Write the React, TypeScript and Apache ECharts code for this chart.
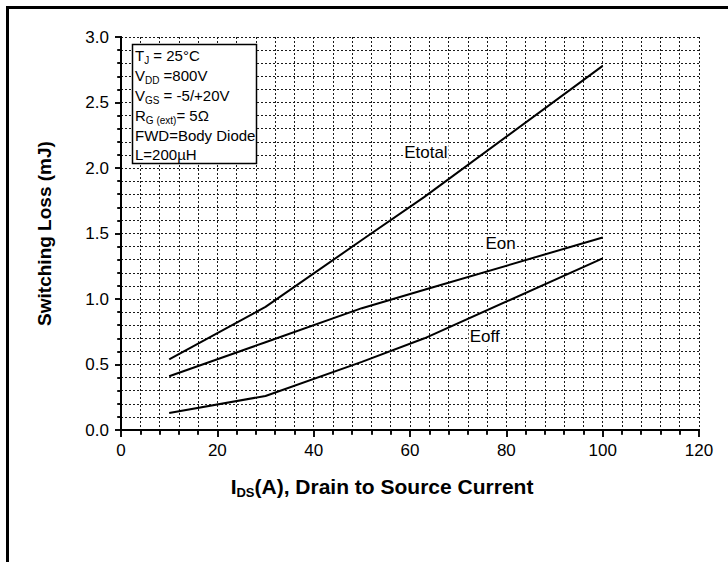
import React, { useEffect, useRef } from "react";
import * as echarts from "echarts";

const currents = [10, 30, 50, 63, 100];
const eTotal = [0.54, 0.94, 1.45, 1.78, 2.78];
const eOn = [0.41, 0.67, 0.93, 1.07, 1.47];
const eOff = [0.13, 0.26, 0.52, 0.7, 1.31];
const seriesNames = ["Etotal", "Eon", "Eoff"];
const labelCoords: [number, number][] = [
  [63.3, 2.12],
  [78.8, 1.42],
  [75.5, 0.71],
];
const conditionLines = [
  "{m|T}{s|J}{m| = 25°C}",
  "{m|V}{s|DD}{m| =800V}",
  "{m|V}{s|GS}{m| = -5/+20V}",
  "{m|R}{s|G (ext)}{m|= 5Ω}",
  "{m|FWD=Body Diode}",
  "{m|L=200µH}",
];
const xTitle = "{b|I}{sub|DS}{b|(A), Drain to Source Current}";
const yTitle = "Switching Loss (mJ)";

const FONT = "Liberation Sans, Arial, sans-serif";

export default function App() {
  const ref = useRef<HTMLDivElement>(null);
  useEffect(() => {
    document.body.style.margin = "0";
    if (!ref.current) return;
    const chart = echarts.init(ref.current, undefined, { renderer: "svg" });
    const dotted = { lineStyle: { color: "#1a1a1a", width: 1, type: [2, 2] } };
    const mk = (vals: number[]) => currents.map((x, i) => [x, vals[i]]);
    const seriesData = [eTotal, eOn, eOff];
    const option: any = {
      animation: false,
      backgroundColor: "#fff",
      grid: { left: 121, right: 29, top: 37, bottom: 132, containLabel: false },
      xAxis: [
        {
          type: "value",
          position: "bottom",
          min: 0,
          max: 120,
          interval: 20,
          axisLine: { show: true, lineStyle: { color: "#000", width: 2 } },
          axisTick: { show: true, inside: false, length: 7, lineStyle: { color: "#000", width: 1.5 } },
          minorTick: { show: true, splitNumber: 5, length: 4, lineStyle: { color: "#000", width: 1.5 } },
          splitLine: { show: true, ...dotted },
          minorSplitLine: { show: true, ...dotted },
          axisLabel: { color: "#000", fontSize: 17, fontFamily: FONT, margin: 12 },
          name: xTitle,
          nameLocation: "middle",
          nameGap: 44,
          nameTextStyle: {
            padding: [0, 56, 0, 0],
            rich: {
              b: { fontSize: 21, fontWeight: "bold", fontFamily: FONT, color: "#000", lineHeight: 25, verticalAlign: "middle" },
              sub: { fontSize: 13, fontWeight: "bold", fontFamily: FONT, color: "#000", lineHeight: 13, verticalAlign: "bottom" },
            },
          },
        },
        {
          type: "value",
          position: "top",
          min: 0,
          max: 120,
          interval: 20,
          axisLine: { show: true, lineStyle: { color: "#000", width: 2 } },
          axisTick: { show: true, inside: true, length: 7, lineStyle: { color: "#000", width: 1.5 } },
          minorTick: { show: true, splitNumber: 5, length: 5, lineStyle: { color: "#000", width: 1.5 } },
          splitLine: { show: false },
          axisLabel: { show: false },
        },
      ],
      yAxis: [
        {
          type: "value",
          position: "left",
          min: 0,
          max: 3,
          interval: 0.5,
          axisLine: { show: true, lineStyle: { color: "#000", width: 2 } },
          axisTick: { show: true, inside: false, length: 6, lineStyle: { color: "#000", width: 1.5 } },
          minorTick: { show: true, splitNumber: 5, length: 3, lineStyle: { color: "#000", width: 1.5 } },
          splitLine: { show: true, ...dotted },
          minorSplitLine: { show: true, ...dotted },
          axisLabel: {
            color: "#000",
            fontSize: 17,
            fontFamily: FONT,
            margin: 12,
            formatter: (v: number) => v.toFixed(1),
          },
          name: yTitle,
          nameLocation: "middle",
          nameGap: 67,
          nameTextStyle: { fontSize: 19, fontWeight: "bold", fontFamily: FONT, color: "#000" },
        },
        {
          type: "value",
          position: "right",
          min: 0,
          max: 3,
          interval: 0.5,
          axisLine: { show: true, lineStyle: { color: "#000", width: 2 } },
          axisTick: { show: true, inside: true, length: 6, lineStyle: { color: "#000", width: 1.5 } },
          minorTick: { show: true, splitNumber: 5, length: 4, lineStyle: { color: "#000", width: 1.5 } },
          splitLine: { show: false },
          axisLabel: { show: false },
        },
      ],
      series: seriesNames.map((name, i) => ({
        name,
        type: "line",
        xAxisIndex: 0,
        yAxisIndex: 0,
        data: mk(seriesData[i]),
        symbol: "none",
        lineStyle: { color: "#000", width: 2 },
        z: 5,
        markPoint: {
          symbol: "rect",
          symbolSize: 1,
          itemStyle: { color: "rgba(0,0,0,0)" },
          label: {
            show: true,
            position: "inside",
            formatter: name,
            color: "#000",
            fontSize: 17,
            fontFamily: FONT,
            backgroundColor: "#fff",
            padding: [1, 1, 1, 1],
          },
          data: [{ coord: labelCoords[i] }],
        },
      })),
      graphic: [
        {
          type: "line",
          shape: { x1: 6, y1: 7.5, x2: 728, y2: 7.5 },
          style: { stroke: "#000", lineWidth: 3 },
        },
        {
          type: "line",
          shape: { x1: 7.5, y1: 6, x2: 7.5, y2: 562 },
          style: { stroke: "#000", lineWidth: 3 },
        },
        {
          type: "rect",
          shape: { x: 132.5, y: 44.5, width: 124, height: 119 },
          style: { fill: "#fff", stroke: "#000", lineWidth: 1.5 },
          z: 10,
        },
        {
          type: "text",
          x: 135,
          y: 46,
          z: 11,
          style: {
            text: conditionLines.join("\n"),
            fill: "#000",
            font: `15px ${FONT}`,
            rich: {
              m: { fontSize: 15, fontFamily: FONT, fill: "#000", lineHeight: 19.8, verticalAlign: "middle" },
              s: { fontSize: 10, fontFamily: FONT, fill: "#000", lineHeight: 10, verticalAlign: "bottom" },
            },
          },
        },
      ],
    };
    chart.setOption(option);
    return () => chart.dispose();
  }, []);
  return <div ref={ref} style={{ width: 728, height: 562 }} />;
}
